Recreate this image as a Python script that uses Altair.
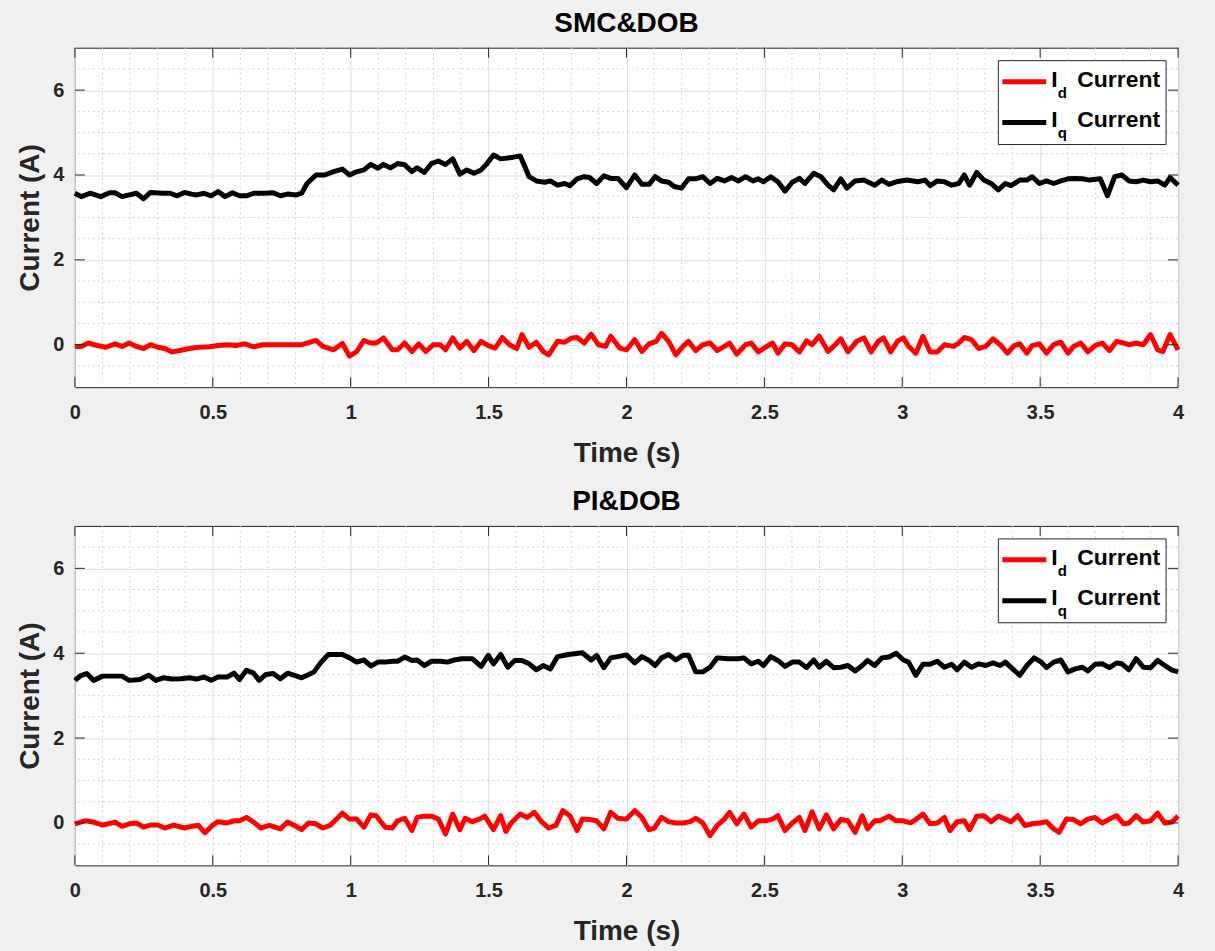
import altair as alt
import pandas as pd

# ---------------- data (time s, current A) ----------------
smc_iq = [(0.000,3.57),(0.023,3.49),(0.055,3.57),(0.094,3.49),(0.126,3.58),(0.146,3.58),(0.171,3.49),(0.197,3.53),(0.223,3.57),(0.249,3.44),(0.274,3.59),(0.320,3.57),(0.345,3.57),(0.371,3.51),(0.397,3.59),(0.423,3.55),(0.442,3.53),(0.468,3.57),(0.494,3.51),(0.519,3.61),(0.545,3.49),(0.571,3.58),(0.597,3.51),(0.622,3.51),(0.648,3.57),(0.687,3.57),(0.719,3.58),(0.745,3.51),(0.771,3.55),(0.803,3.53),(0.822,3.57),(0.842,3.80),(0.874,4.00),(0.906,4.00),(0.938,4.08),(0.970,4.14),(0.996,4.00),(1.015,4.06),(1.048,4.12),(1.073,4.25),(1.099,4.16),(1.119,4.25),(1.144,4.17),(1.170,4.27),(1.196,4.24),(1.222,4.08),(1.241,4.17),(1.267,4.06),(1.293,4.27),(1.318,4.33),(1.344,4.25),(1.370,4.38),(1.396,4.02),(1.421,4.12),(1.447,4.04),(1.473,4.12),(1.492,4.25),(1.518,4.47),(1.544,4.38),(1.582,4.41),(1.615,4.45),(1.647,3.96),(1.673,3.86),(1.705,3.83),(1.724,3.86),(1.750,3.76),(1.776,3.80),(1.795,3.75),(1.821,3.91),(1.847,3.96),(1.866,3.94),(1.892,3.80),(1.918,3.98),(1.943,3.92),(1.969,3.92),(2.000,3.70),
(2.030,4.00),(2.056,3.78),(2.082,3.78),(2.104,3.96),(2.127,3.86),(2.153,3.83),(2.173,3.73),(2.199,3.69),(2.225,3.91),(2.251,3.91),(2.277,3.96),(2.303,3.80),(2.329,3.92),(2.355,3.86),(2.381,3.94),(2.406,3.86),(2.432,3.96),(2.458,3.86),(2.478,3.91),(2.497,3.84),(2.523,3.96),(2.549,3.84),(2.575,3.62),(2.601,3.83),(2.627,3.92),(2.647,3.80),(2.679,4.04),(2.705,3.96),(2.731,3.76),(2.751,3.65),(2.777,3.91),(2.799,3.69),(2.829,3.86),(2.861,3.88),(2.900,3.76),(2.926,3.88),(2.952,3.78),(2.978,3.84),(3.017,3.88),(3.056,3.84),(3.082,3.88),(3.101,3.75),(3.127,3.86),(3.153,3.84),(3.179,3.76),(3.205,3.80),(3.225,4.00),(3.244,3.76),(3.270,4.06),(3.296,3.88),(3.322,3.80),(3.348,3.65),(3.374,3.80),(3.394,3.75),(3.426,3.88),(3.452,3.88),(3.471,3.96),(3.497,3.80),(3.523,3.86),(3.549,3.80),(3.575,3.86),(3.601,3.91),(3.627,3.92),(3.653,3.91),(3.679,3.88),(3.718,3.91),(3.744,3.51),(3.770,3.96),(3.796,4.00),(3.822,3.86),(3.848,3.84),(3.874,3.88),(3.900,3.84),(3.926,3.86),(3.952,3.76),(3.971,3.94),(4.000,3.76)]

smc_id = [(0.000,-0.04),(0.023,-0.04),(0.049,0.04),(0.081,-0.02),(0.113,-0.06),(0.146,0.02),(0.171,-0.04),(0.197,0.04),(0.223,-0.04),(0.249,-0.09),(0.274,0.00),(0.300,-0.06),(0.326,-0.09),(0.352,-0.17),(0.384,-0.13),(0.416,-0.09),(0.448,-0.06),(0.487,-0.05),(0.519,-0.02),(0.552,0.00),(0.584,-0.02),(0.616,0.02),(0.648,-0.05),(0.680,0.00),(0.719,0.00),(0.758,0.00),(0.796,0.00),(0.822,0.00),(0.842,0.04),(0.874,0.10),(0.899,-0.04),(0.938,-0.12),(0.970,0.03),(0.996,-0.27),(1.022,-0.16),(1.048,0.10),(1.073,0.04),(1.093,0.04),(1.119,0.16),(1.151,-0.12),(1.170,-0.12),(1.196,0.04),(1.222,-0.16),(1.247,0.02),(1.273,-0.16),(1.299,0.00),(1.325,0.00),(1.344,-0.12),(1.370,0.16),(1.396,-0.08),(1.421,0.08),(1.447,-0.14),(1.473,0.08),(1.499,-0.02),(1.524,-0.08),(1.550,0.17),(1.576,0.00),(1.602,-0.09),(1.621,0.24),(1.647,-0.06),(1.673,0.06),(1.698,-0.16),(1.718,-0.24),(1.750,0.08),(1.776,0.06),(1.802,0.16),(1.821,0.17),(1.847,0.04),(1.872,0.25),(1.898,0.00),(1.924,-0.04),(1.943,0.20),(1.976,-0.08),(2.000,-0.12),
(2.030,0.12),(2.056,-0.16),(2.082,0.02),(2.108,0.08),(2.127,0.27),(2.153,0.08),(2.179,-0.24),(2.205,-0.04),(2.225,0.08),(2.251,-0.14),(2.277,0.00),(2.303,0.04),(2.329,-0.14),(2.355,-0.04),(2.374,0.04),(2.400,-0.22),(2.432,0.00),(2.452,0.04),(2.478,-0.17),(2.504,-0.06),(2.530,0.04),(2.549,-0.20),(2.575,0.02),(2.601,0.00),(2.627,-0.17),(2.653,0.09),(2.673,0.00),(2.699,0.20),(2.731,-0.16),(2.751,-0.04),(2.777,0.14),(2.803,-0.17),(2.835,0.08),(2.861,0.16),(2.887,-0.17),(2.913,0.08),(2.932,0.16),(2.958,-0.17),(2.984,0.09),(3.004,0.16),(3.023,-0.04),(3.049,-0.20),(3.075,0.20),(3.101,-0.17),(3.127,-0.17),(3.153,0.00),(3.186,-0.04),(3.205,0.04),(3.225,0.17),(3.251,0.12),(3.277,-0.09),(3.303,-0.04),(3.329,0.14),(3.355,0.00),(3.381,-0.20),(3.406,-0.02),(3.426,0.02),(3.452,-0.20),(3.471,-0.02),(3.497,0.02),(3.523,-0.20),(3.549,0.00),(3.575,0.06),(3.601,-0.20),(3.621,-0.04),(3.647,0.04),(3.673,-0.17),(3.699,-0.02),(3.725,0.04),(3.751,-0.14),(3.777,0.08),(3.803,0.04),(3.822,0.00),(3.848,0.04),(3.874,0.00),(3.900,0.24),(3.926,-0.12),(3.945,-0.16),(3.971,0.24),(4.000,-0.12)]

pi_iq = [(0.000,3.36),(0.023,3.48),(0.043,3.52),(0.068,3.36),(0.101,3.46),(0.133,3.46),(0.171,3.46),(0.197,3.36),(0.236,3.38),(0.268,3.48),(0.294,3.36),(0.320,3.42),(0.352,3.39),(0.384,3.40),(0.416,3.42),(0.442,3.39),(0.468,3.44),(0.494,3.36),(0.519,3.44),(0.552,3.44),(0.577,3.53),(0.597,3.38),(0.622,3.60),(0.648,3.53),(0.668,3.36),(0.693,3.50),(0.719,3.52),(0.745,3.40),(0.771,3.53),(0.796,3.48),(0.822,3.42),(0.848,3.50),(0.867,3.56),(0.893,3.79),(0.919,3.97),(0.945,3.97),(0.970,3.97),(0.996,3.89),(1.022,3.79),(1.048,3.84),(1.073,3.70),(1.099,3.79),(1.125,3.79),(1.151,3.81),(1.170,3.81),(1.196,3.91),(1.222,3.83),(1.241,3.84),(1.267,3.71),(1.293,3.81),(1.325,3.81),(1.351,3.79),(1.376,3.84),(1.402,3.87),(1.441,3.87),(1.473,3.69),(1.499,3.95),(1.518,3.75),(1.544,3.97),(1.570,3.67),(1.595,3.83),(1.621,3.83),(1.647,3.75),(1.673,3.61),(1.698,3.71),(1.724,3.63),(1.750,3.92),(1.789,3.97),(1.840,4.01),(1.872,3.84),(1.892,3.95),(1.918,3.66),(1.943,3.89),(1.969,3.92),(2.000,3.96),
(2.030,3.77),(2.056,3.92),(2.082,3.83),(2.104,3.71),(2.127,3.89),(2.153,3.97),(2.179,3.84),(2.205,3.95),(2.225,3.95),(2.251,3.56),(2.277,3.56),(2.303,3.67),(2.329,3.89),(2.368,3.87),(2.406,3.87),(2.426,3.89),(2.452,3.75),(2.478,3.81),(2.497,3.71),(2.523,3.92),(2.549,3.83),(2.575,3.69),(2.601,3.79),(2.627,3.79),(2.653,3.66),(2.679,3.84),(2.699,3.67),(2.725,3.81),(2.751,3.66),(2.777,3.67),(2.803,3.71),(2.829,3.58),(2.855,3.71),(2.874,3.83),(2.900,3.71),(2.926,3.89),(2.952,3.91),(2.978,4.00),(3.004,3.84),(3.023,3.79),(3.049,3.48),(3.075,3.74),(3.101,3.74),(3.127,3.81),(3.153,3.67),(3.179,3.74),(3.199,3.61),(3.225,3.79),(3.251,3.67),(3.277,3.75),(3.303,3.71),(3.329,3.77),(3.355,3.71),(3.374,3.79),(3.400,3.63),(3.426,3.48),(3.452,3.71),(3.478,3.89),(3.504,3.79),(3.523,3.66),(3.549,3.79),(3.575,3.84),(3.601,3.56),(3.627,3.63),(3.653,3.67),(3.673,3.58),(3.699,3.74),(3.725,3.75),(3.751,3.66),(3.777,3.77),(3.796,3.75),(3.822,3.61),(3.848,3.87),(3.874,3.67),(3.900,3.66),(3.926,3.83),(3.952,3.71),(3.978,3.60),(4.000,3.56)]

pi_id = [(0.000,-0.02),(0.036,0.05),(0.068,0.02),(0.101,-0.05),(0.146,0.02),(0.171,-0.08),(0.197,-0.02),(0.223,0.00),(0.249,-0.10),(0.274,-0.05),(0.300,-0.05),(0.326,-0.12),(0.358,-0.05),(0.397,-0.12),(0.423,-0.08),(0.448,-0.06),(0.472,-0.23),(0.500,-0.05),(0.519,0.03),(0.552,0.00),(0.577,0.05),(0.597,0.05),(0.622,0.13),(0.648,0.02),(0.674,-0.12),(0.706,-0.06),(0.745,-0.14),(0.771,0.02),(0.796,-0.06),(0.822,-0.16),(0.848,0.00),(0.874,-0.02),(0.899,-0.12),(0.925,-0.06),(0.970,0.23),(0.996,0.09),(1.022,0.09),(1.048,-0.10),(1.073,0.19),(1.093,0.17),(1.125,-0.10),(1.151,-0.12),(1.170,0.05),(1.196,0.11),(1.222,-0.18),(1.241,0.13),(1.267,0.16),(1.293,0.16),(1.318,0.09),(1.344,-0.26),(1.370,0.21),(1.396,-0.16),(1.415,0.11),(1.441,0.03),(1.467,0.09),(1.486,0.16),(1.518,-0.16),(1.544,0.17),(1.563,-0.20),(1.582,0.00),(1.615,0.21),(1.640,0.13),(1.666,0.25),(1.692,0.03),(1.718,-0.12),(1.744,-0.06),(1.769,0.29),(1.795,0.17),(1.821,-0.18),(1.840,0.09),(1.866,0.08),(1.892,0.05),(1.918,-0.14),(1.943,0.25),(1.969,0.11),(2.000,0.09),
(2.030,0.29),(2.056,0.13),(2.082,-0.16),(2.101,-0.12),(2.127,0.13),(2.153,0.03),(2.179,0.00),(2.205,0.00),(2.231,0.03),(2.251,0.11),(2.277,0.00),(2.303,-0.30),(2.329,-0.06),(2.355,0.09),(2.374,0.25),(2.400,-0.02),(2.426,0.21),(2.452,-0.10),(2.478,0.05),(2.504,0.05),(2.530,0.09),(2.549,0.17),(2.575,-0.18),(2.601,0.00),(2.627,0.13),(2.647,-0.18),(2.673,0.26),(2.699,-0.14),(2.725,0.19),(2.751,-0.14),(2.777,0.08),(2.803,0.05),(2.829,-0.22),(2.855,0.17),(2.874,-0.14),(2.900,0.05),(2.919,0.05),(2.952,0.16),(2.978,0.05),(3.004,0.05),(3.030,0.00),(3.049,0.08),(3.075,0.21),(3.101,-0.02),(3.127,0.00),(3.153,0.13),(3.173,-0.18),(3.199,0.03),(3.225,0.05),(3.244,-0.16),(3.270,0.16),(3.296,0.17),(3.322,0.03),(3.348,0.16),(3.374,0.09),(3.394,0.03),(3.419,0.17),(3.445,-0.06),(3.471,-0.02),(3.497,0.00),(3.523,0.03),(3.549,-0.14),(3.569,-0.22),(3.595,0.09),(3.621,0.08),(3.647,-0.02),(3.673,0.09),(3.699,0.13),(3.725,0.00),(3.751,0.09),(3.777,0.17),(3.803,-0.02),(3.822,0.00),(3.848,0.17),(3.874,0.02),(3.900,0.05),(3.926,0.23),(3.952,0.00),(3.978,0.02),(4.000,0.16)]

x_major = [0, 0.5, 1, 1.5, 2, 2.5, 3, 3.5, 4]
y_major = [0, 2, 4, 6]
x_minor = [0.1, 0.2, 0.3, 0.4, 0.6, 0.7, 0.8, 0.9, 1.1, 1.2, 1.3, 1.4, 1.6, 1.7, 1.8, 1.9,
           2.1, 2.2, 2.3, 2.4, 2.6, 2.7, 2.8, 2.9, 3.1, 3.2, 3.3, 3.4, 3.6, 3.7, 3.8, 3.9]
y_minor = [-0.5, 0.5, 1, 1.5, 2.5, 3, 3.5, 4.5, 5, 5.5, 6.5]

# ---------------- style ----------------
W, H = 1105, 340
FONT = "Liberation Sans"
AXC = "#262626"
GRID = "#dcdcdc"
MINOR = "#d4d4d4"
LW = 5

xscale = alt.Scale(domain=[0, 4], nice=False, zero=False)
yscale = alt.Scale(domain=[-1, 7], nice=False, zero=False)

xaxis = alt.Axis(values=x_major, format="~g", title="Time (s)", grid=True, gridColor=GRID,
                 gridWidth=1, ticks=False, domain=False, labelFlush=False,
                 labelFont=FONT, labelFontSize=20, labelFontWeight="bold", labelColor=AXC,
                 labelPadding=15, titleFont=FONT, titleFontSize=28, titleFontWeight="bold",
                 titleColor=AXC, titlePadding=17)
yaxis = alt.Axis(values=y_major, format="d", title="Current (A)", grid=True, gridColor=GRID,
                 gridWidth=1, ticks=False, domain=False,
                 labelFont=FONT, labelFontSize=20, labelFontWeight="bold", labelColor=AXC,
                 labelPadding=11, titleFont=FONT, titleFontSize=28, titleFontWeight="bold",
                 titleColor=AXC, titlePadding=8)

X = lambda f: alt.X(f, type="quantitative", scale=xscale, axis=xaxis)
Y = lambda f: alt.Y(f, type="quantitative", scale=yscale, axis=yaxis)


def panel(title, id_pts, iq_pts, pin=False):
    layers = []
    one = alt.Data(values=[{"a": 1}])
    if pin:
        layers.append(alt.Chart(one).mark_rect(opacity=0).encode(
            x=alt.value(-74), x2=alt.value(1215 - 74), y=alt.value(-46), y2=alt.value(951 - 46)))
    xm = pd.DataFrame({"v": x_minor})
    ym = pd.DataFrame({"v": y_minor})
    layers.append(alt.Chart(xm).mark_rule(color=MINOR, strokeWidth=1, strokeDash=[2, 3]).encode(x=X("v")))
    layers.append(alt.Chart(ym).mark_rule(color=MINOR, strokeWidth=1, strokeDash=[2, 3]).encode(y=Y("v")))

    d_id = pd.DataFrame(id_pts, columns=["t", "i"])
    d_iq = pd.DataFrame(iq_pts, columns=["t", "i"])
    layers.append(alt.Chart(d_id).mark_line(color="#ff0000", strokeWidth=LW, strokeJoin="round")
                  .encode(x=X("t"), y=Y("i")))
    layers.append(alt.Chart(d_iq).mark_line(color="#000000", strokeWidth=LW, strokeJoin="round")
                  .encode(x=X("t"), y=Y("i")))

    # inward tick marks (MATLAB style)
    xt = pd.DataFrame({"v": x_major})
    yt = pd.DataFrame({"v": y_major})
    layers.append(alt.Chart(xt).mark_rule(color=AXC, strokeWidth=1).encode(
        x=X("v"), y=alt.value(0), y2=alt.value(10)))
    layers.append(alt.Chart(xt).mark_rule(color=AXC, strokeWidth=1).encode(
        x=X("v"), y=alt.value(H - 10), y2=alt.value(H)))
    layers.append(alt.Chart(yt).mark_rule(color=AXC, strokeWidth=1).encode(
        y=Y("v"), x=alt.value(0), x2=alt.value(10)))
    layers.append(alt.Chart(yt).mark_rule(color=AXC, strokeWidth=1).encode(
        y=Y("v"), x=alt.value(W - 10), x2=alt.value(W)))

    # legend box
    layers.append(alt.Chart(one).mark_rect(fill="white", stroke=AXC, strokeWidth=1).encode(
        x=alt.value(925), x2=alt.value(1093), y=alt.value(13), y2=alt.value(97)))
    layers.append(alt.Chart(one).mark_rule(color="#ff0000", strokeWidth=LW).encode(
        x=alt.value(929), x2=alt.value(973), y=alt.value(34)))
    layers.append(alt.Chart(one).mark_rule(color="#000000", strokeWidth=LW).encode(
        x=alt.value(929), x2=alt.value(973), y=alt.value(75)))
    for yb, sub in [(39, "d"), (79, "q")]:
        layers.append(alt.Chart(one).mark_text(font=FONT, fontSize=23, fontWeight="bold", color="black",
                                               align="left", baseline="alphabetic").encode(
            x=alt.value(978), y=alt.value(yb), text=alt.value("I")))
        layers.append(alt.Chart(one).mark_text(font=FONT, fontSize=15, fontWeight="bold", color="black",
                                               align="left", baseline="alphabetic").encode(
            x=alt.value(984.5), y=alt.value(yb + 11), text=alt.value(sub)))
        layers.append(alt.Chart(one).mark_text(font=FONT, fontSize=23, fontWeight="bold", color="black",
                                               align="left", baseline="alphabetic").encode(
            x=alt.value(1004), y=alt.value(yb), text=alt.value("Current")))

    # panel title
    layers.append(alt.Chart(one).mark_text(font=FONT, fontSize=28, fontWeight="bold", color="black",
                                           align="center", baseline="middle").encode(
        x=alt.value(W / 2), y=alt.value(-24), text=alt.value(title)))

    return alt.layer(*layers).properties(width=W, height=H)


top = panel("SMC&DOB", smc_id, smc_iq, pin=True)
bottom = panel("PI&DOB", pi_id, pi_iq)

chart = alt.vconcat(top, bottom, spacing=139, bounds="flush").properties(
    padding=0, background="#f0f0f0"
).configure_view(fill="white", stroke=AXC, strokeWidth=1)

chart.save("out.html", embed_options={"renderer": "svg", "actions": False})
